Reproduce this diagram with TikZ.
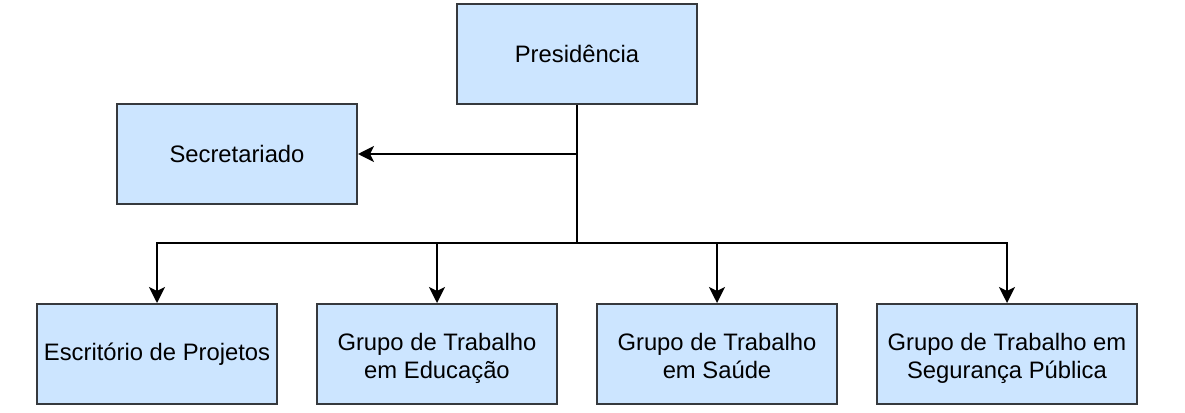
\documentclass[tikz,border=0pt]{standalone}
\usepackage{fontspec}
\setmainfont{Liberation Sans}
\usetikzlibrary{arrows.meta}
\definecolor{boxfill}{HTML}{CCE5FF}
\definecolor{boxline}{HTML}{36393D}
\newcommand{\twolines}[2]{\rule{0pt}{27pt}#1\\#2\rule[-6pt]{0pt}{6pt}}
\begin{document}
\begin{tikzpicture}[x=1pt,y=-1pt,
  orgbox/.style={draw=boxline,fill=boxfill,line width=2pt,minimum width=240pt,minimum height=100pt,inner sep=0pt,align=center,font=\fontsize{23.8}{27.6}\selectfont},
  conn/.style={line width=2pt,-{Triangle[width=16pt,length=16pt,inset=4pt]}}]
\useasboundingbox (0,0) rectangle (1185,412);
\node[orgbox] (pres) at (577,54) {Presidência};
\node[orgbox] (sec) at (237,154) {Secretariado};
\node[orgbox] (esc) at (157,354) {Escritório de Projetos};
\node[orgbox] (edu) at (437,354) {\twolines{Grupo de Trabalho}{em Educação}};
\node[orgbox] (sau) at (717,354) {\twolines{Grupo de Trabalho}{em Saúde}};
\node[orgbox,minimum width=260pt] (seg) at (1007,354) {\twolines{Grupo de Trabalho em}{Segurança Pública}};
\coordinate (j1) at (577,154);
\coordinate (j2) at (577,243);
\draw[line width=2pt] (pres.south) -- (j2);
\draw[conn] (j1) -- (sec.east);
\draw[conn] (j2) -| (esc.north);
\draw[conn] (j2) -| (edu.north);
\draw[conn] (j2) -| (sau.north);
\draw[conn] (j2) -| (seg.north);
\end{tikzpicture}
\end{document}
